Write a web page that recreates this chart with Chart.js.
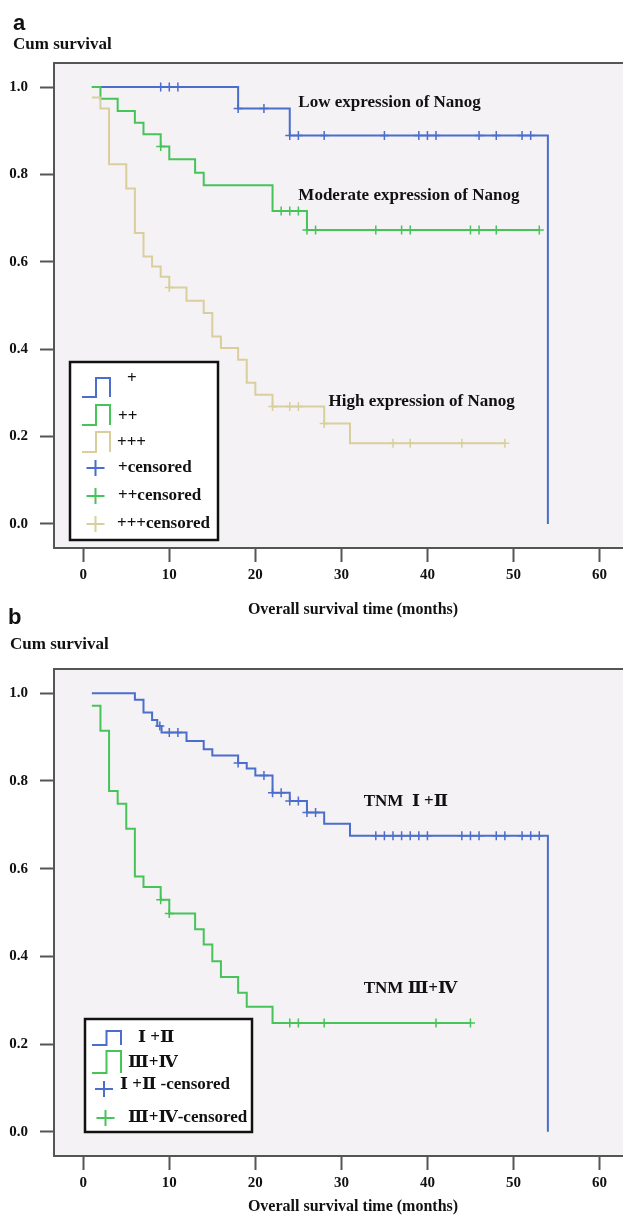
<!DOCTYPE html>
<html>
<head>
<meta charset="utf-8">
<script src="https://cdn.jsdelivr.net/npm/chart.js@4.4.1/dist/chart.umd.min.js"></script>
<style>
  html, body { margin: 0; padding: 0; background: #fff; }
  body { width: 623px; height: 1216px; overflow: hidden; position: relative; }
  canvas { position: absolute; left: 0; }
  .tag { position: absolute; font: bold 22px "Liberation Sans", Arial, sans-serif; line-height: 22px; color: #111; }
  .cum { position: absolute; font: bold 17px "Liberation Serif", serif; line-height: 17px; color: #111; }
</style>
</head>
<body>
<canvas id="chartA" width="660" height="625" style="top:0"></canvas>
<canvas id="chartB" width="660" height="616" style="top:600px"></canvas>
<div class="tag" style="left:13px;top:12px">a</div>
<div class="cum" style="left:13px;top:35px">Cum survival</div>
<div class="tag" style="left:8px;top:606px">b</div>
<div class="cum" style="left:10px;top:635px">Cum survival</div>
<script>
// ---- axes ----
const xTicks = [0, 10, 20, 30, 40, 50, 60];
const yTicks = [0, 0.2, 0.4, 0.6, 0.8, 1.0];
const xTitle = 'Overall survival time (months)';

// ---- panel a: Nanog expression ----
const lowTimes = [1, 18, 24, 54];
const lowSurv = [1.0, 0.951, 0.889, 0.0];
const lowCensored = [9, 10, 11, 18, 21, 24, 25, 28, 35, 39, 40, 41, 46, 48, 51, 52];

const modTimes = [1, 2, 4, 6, 7, 9, 10, 13, 14, 22, 26, 53];
const modSurv = [1.0, 0.973, 0.945, 0.918, 0.892, 0.864, 0.835, 0.804, 0.775, 0.716, 0.673, 0.673];
const modCensored = [9, 23, 24, 25, 26, 27, 34, 37, 38, 45, 46, 48, 53];

const highTimes = [1, 2, 3, 5, 6, 7, 8, 9, 10, 12, 14, 15, 16, 18, 19, 20, 22, 28, 31, 49];
const highSurv = [0.976, 0.951, 0.823, 0.768, 0.666, 0.612, 0.589, 0.566, 0.541, 0.511, 0.483, 0.429, 0.403, 0.376, 0.323, 0.296, 0.269, 0.230, 0.185, 0.185];
const highCensored = [10, 22, 24, 25, 28, 36, 38, 44, 49];

// ---- panel b: TNM stage ----
const earlyTimes = [1, 6, 7, 8, 8.6, 9.1, 12, 14, 15, 18, 19, 20, 22, 24, 26, 28, 31, 54];
const earlySurv = [1.0, 0.985, 0.956, 0.939, 0.925, 0.910, 0.891, 0.872, 0.858, 0.841, 0.828, 0.812, 0.773, 0.754, 0.728, 0.702, 0.675, 0.0];
const earlyCensored = [8.9, 10, 11, 18, 21, 22, 23, 24, 25, 26, 27, 34, 35, 36, 37, 38, 39, 40, 44, 45, 46, 48, 49, 51, 52, 53];

const lateTimes = [1, 2, 3, 4, 5, 6, 7, 9, 10, 13, 14, 15, 16, 18, 19, 22, 45];
const lateSurv = [0.971, 0.914, 0.777, 0.748, 0.691, 0.582, 0.558, 0.529, 0.498, 0.462, 0.427, 0.389, 0.353, 0.317, 0.285, 0.248, 0.248];
const lateCensored = [9, 10, 24, 25, 28, 41, 45];

const BLUE = '#4b6dcb';
const GREEN = '#46c458';
const TAN = '#d8cf9c';
const PLOT_BG = '#f5f2f5';
const AXIS = '#555';
const SERIF = '"Liberation Serif", "DejaVu Serif", serif';

Chart.defaults.font.family = SERIF;

// survival level at time t (last step at or before t)
function survAt(times, surv, t) {
  let s = surv[0];
  for (let i = 0; i < times.length; i++) {
    if (times[i] <= t) s = surv[i];
  }
  return s;
}

function curve(times, surv, color) {
  return {
    type: 'line',
    data: times.map((t, i) => ({ x: t, y: surv[i] })),
    borderColor: color,
    borderWidth: 2,
    stepped: true,
    pointRadius: 0,
    fill: false
  };
}

function censorMarks(times, surv, censored, color) {
  return {
    type: 'line',
    data: censored.map(t => ({ x: t, y: survAt(times, surv, t) })),
    showLine: false,
    borderColor: color,
    borderWidth: 1.5,
    pointStyle: 'cross',
    pointRadius: 4.5,
    pointHoverRadius: 4.5
  };
}

// plot background + frame
const framePlugin = {
  id: 'frame',
  beforeDraw(chart) {
    const { ctx, chartArea: a } = chart;
    ctx.save();
    ctx.fillStyle = PLOT_BG;
    ctx.fillRect(a.left, a.top, a.right - a.left, a.bottom - a.top);
    ctx.strokeStyle = AXIS;
    ctx.lineWidth = 2;
    ctx.beginPath();
    ctx.moveTo(a.left, a.top);
    ctx.lineTo(a.right, a.top);
    ctx.lineTo(a.right, a.bottom);
    ctx.stroke();
    ctx.restore();
  }
};

// text labels next to the curves
const curveLabelPlugin = {
  id: 'curveLabels',
  afterDatasetsDraw(chart, args, opts) {
    const { ctx, scales } = chart;
    ctx.save();
    ctx.font = 'bold 17px ' + SERIF;
    ctx.fillStyle = '#111';
    ctx.textAlign = 'left';
    ctx.textBaseline = 'middle';
    (opts.items || []).forEach(it => {
      ctx.fillText(it.text, scales.x.getPixelForValue(it.x), scales.y.getPixelForValue(it.y));
    });
    ctx.restore();
  }
};

// boxed legend with step / cross symbols
const boxLegendPlugin = {
  id: 'boxLegend',
  afterDatasetsDraw(chart, args, opts) {
    if (!opts.items) return;
    const { ctx, chartArea: a } = chart;
    const bx = a.left + opts.left, by = a.top + opts.top;
    ctx.save();
    ctx.fillStyle = '#fff';
    ctx.fillRect(bx, by, opts.width, opts.height);
    ctx.strokeStyle = '#111';
    ctx.lineWidth = 2.5;
    ctx.strokeRect(bx, by, opts.width, opts.height);
    ctx.lineWidth = 2;
    opts.items.forEach(it => {
      ctx.strokeStyle = it.color;
      ctx.beginPath();
      if (it.kind === 'step') {
        const x0 = bx + it.x, y0 = by + it.y, w = it.w, h = it.h;
        ctx.moveTo(x0, y0 + h);
        ctx.lineTo(x0 + w / 2, y0 + h);
        ctx.lineTo(x0 + w / 2, y0);
        ctx.lineTo(x0 + w, y0);
        ctx.lineTo(x0 + w, y0 + h);
      } else {
        const cx = bx + it.x, cy = by + it.y;
        ctx.moveTo(cx - 9, cy);
        ctx.lineTo(cx + 9, cy);
        ctx.moveTo(cx, cy - 8);
        ctx.lineTo(cx, cy + 8);
      }
      ctx.stroke();
      ctx.font = 'bold 17px ' + SERIF;
      ctx.fillStyle = '#111';
      ctx.textAlign = 'left';
      ctx.textBaseline = 'middle';
      ctx.fillText(it.text, bx + it.tx, by + it.ty);
    });
    ctx.restore();
  }
};

function makeScales(xHeight, titlePadBottom) {
  return {
    x: {
      type: 'linear',
      min: -3.4,
      max: 66.1,
      afterBuildTicks: s => { s.ticks = xTicks.map(v => ({ value: v })); },
      afterFit: s => { s.height = xHeight; },
      grid: { drawOnChartArea: false, drawTicks: true, tickLength: 14, tickWidth: 2, tickColor: AXIS },
      border: { display: true, color: AXIS, width: 2 },
      ticks: { color: '#111', font: { size: 15, weight: 'bold' }, padding: 4, maxRotation: 0 },
      title: {
        display: true, text: xTitle, color: '#111',
        font: { size: 16, weight: 'bold' },
        padding: { top: 0, bottom: titlePadBottom }
      }
    },
    y: {
      type: 'linear',
      min: -0.055,
      max: 1.055,
      afterBuildTicks: s => { s.ticks = yTicks.map(v => ({ value: v })); },
      afterFit: s => { s.width = 54; },
      grid: { drawOnChartArea: false, drawTicks: true, tickLength: 14, tickWidth: 2, tickColor: AXIS },
      border: { display: true, color: AXIS, width: 2 },
      ticks: {
        color: '#111', font: { size: 15, weight: 'bold' }, padding: 12,
        callback: v => v.toFixed(1)
      }
    }
  };
}

const basePlugins = { legend: { display: false }, tooltip: { enabled: false } };

new Chart(document.getElementById('chartA'), {
  type: 'line',
  data: {
    datasets: [
      curve(highTimes, highSurv, TAN),
      curve(modTimes, modSurv, GREEN),
      curve(lowTimes, lowSurv, BLUE),
      censorMarks(highTimes, highSurv, highCensored, TAN),
      censorMarks(modTimes, modSurv, modCensored, GREEN),
      censorMarks(lowTimes, lowSurv, lowCensored, BLUE)
    ]
  },
  options: {
    responsive: false,
    animation: false,
    layout: { padding: { top: 63, left: 0, right: 8, bottom: 0 } },
    scales: makeScales(77, 6),
    plugins: Object.assign({}, basePlugins, {
      curveLabels: {
        items: [
          { x: 25, y: 0.965, text: 'Low expression of Nanog' },
          { x: 25, y: 0.752, text: 'Moderate expression of Nanog' },
          { x: 28.5, y: 0.28, text: 'High expression of Nanog' }
        ]
      },
      boxLegend: {
        left: 16, top: 299, width: 148, height: 178,
        items: [
          { kind: 'step', color: BLUE, x: 12, y: 16, w: 28, h: 19, text: '+', tx: 57, ty: 17 },
          { kind: 'step', color: GREEN, x: 12, y: 43, w: 28, h: 20, text: '++', tx: 48, ty: 55 },
          { kind: 'step', color: TAN, x: 12, y: 70, w: 28, h: 20, text: '+++', tx: 47, ty: 81 },
          { kind: 'cross', color: BLUE, x: 25.5, y: 106, text: '+censored', tx: 48, ty: 106 },
          { kind: 'cross', color: GREEN, x: 25.5, y: 134, text: '++censored', tx: 48, ty: 134 },
          { kind: 'cross', color: TAN, x: 25.5, y: 162, text: '+++censored', tx: 47, ty: 162 }
        ]
      }
    })
  },
  plugins: [framePlugin, curveLabelPlugin, boxLegendPlugin]
});

new Chart(document.getElementById('chartB'), {
  type: 'line',
  data: {
    datasets: [
      curve(lateTimes, lateSurv, GREEN),
      curve(earlyTimes, earlySurv, BLUE),
      censorMarks(lateTimes, lateSurv, lateCensored, GREEN),
      censorMarks(earlyTimes, earlySurv, earlyCensored, BLUE)
    ]
  },
  options: {
    responsive: false,
    animation: false,
    layout: { padding: { top: 69, left: 0, right: 8, bottom: 0 } },
    scales: makeScales(60, 0),
    plugins: Object.assign({}, basePlugins, {
      curveLabels: {
        items: [
          { x: 32.6, y: 0.753, text: 'TNM  Ⅰ +Ⅱ' },
          { x: 32.6, y: 0.327, text: 'TNM Ⅲ+Ⅳ' }
        ]
      },
      boxLegend: {
        left: 31, top: 350, width: 167, height: 113,
        items: [
          { kind: 'step', color: BLUE, x: 7, y: 12, w: 29, h: 14, text: 'Ⅰ +Ⅱ', tx: 53, ty: 19 },
          { kind: 'step', color: GREEN, x: 7, y: 32, w: 29, h: 22, text: 'Ⅲ+Ⅳ', tx: 43, ty: 44 },
          { kind: 'cross', color: BLUE, x: 19, y: 70, text: 'Ⅰ +Ⅱ -censored', tx: 35, ty: 66 },
          { kind: 'cross', color: GREEN, x: 20.5, y: 99, text: 'Ⅲ+Ⅳ-censored', tx: 43, ty: 99 }
        ]
      }
    })
  },
  plugins: [framePlugin, curveLabelPlugin, boxLegendPlugin]
});
</script>
</body>
</html>
